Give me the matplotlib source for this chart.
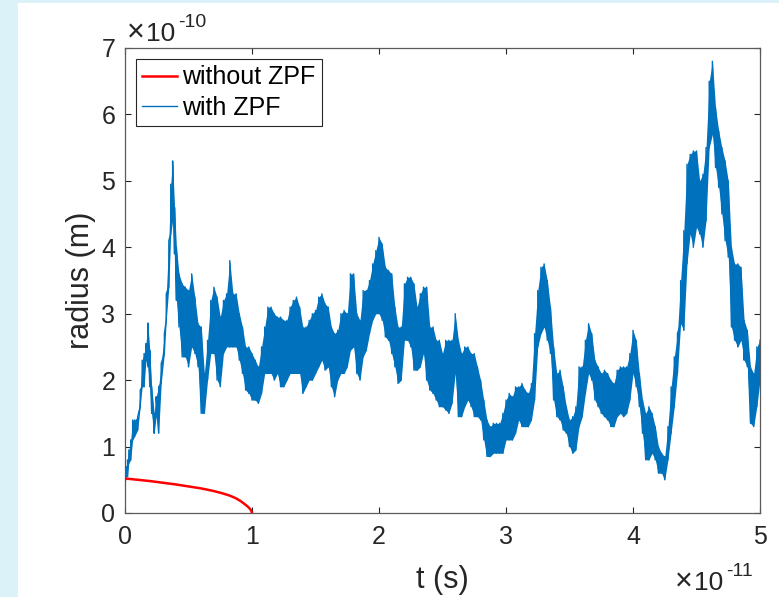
import matplotlib
matplotlib.use("Agg")
import matplotlib.pyplot as plt
import numpy as np

plt.rcParams['font.family'] = ['Liberation Sans', 'DejaVu Sans']

# ---- data (t in units of 1e-11 s, radius in units of 1e-10 m) ----
# "with ZPF": sample times and lower / upper edge of the noisy trace
t_zpf = [0.000, 0.010, 0.020, 0.030, 0.045, 0.060, 0.075, 0.100, 0.120, 0.135,
         0.150, 0.165, 0.180, 0.195, 0.210, 0.230, 0.245, 0.265, 0.285, 0.310,
         0.325, 0.345, 0.360, 0.375, 0.390, 0.405, 0.425,
         0.450, 0.475, 0.500, 0.525, 0.550, 0.575, 0.600, 0.625,
         0.650, 0.675, 0.700, 0.725, 0.750, 0.775, 0.800, 0.825,
         0.850, 0.875, 0.900, 0.925, 0.950, 0.975, 1.000, 1.025,
         1.050, 1.075, 1.100, 1.125, 1.150, 1.175, 1.200, 1.225,
         1.250, 1.275, 1.300, 1.325, 1.350, 1.375, 1.400, 1.425,
         1.450, 1.475, 1.500, 1.525, 1.550, 1.575, 1.600, 1.625,
         1.650, 1.675, 1.700, 1.725, 1.750, 1.775, 1.800, 1.825,
         1.850, 1.875, 1.900, 1.925, 1.950, 1.975, 2.000, 2.025,
         2.050, 2.075, 2.100, 2.125, 2.150, 2.175, 2.200, 2.225,
         2.250, 2.275, 2.300, 2.325, 2.350, 2.375, 2.400, 2.425,
         2.450, 2.475, 2.500, 2.525, 2.550, 2.575, 2.600, 2.625,
         2.650, 2.675, 2.700, 2.725, 2.750, 2.775, 2.800, 2.825,
         2.850, 2.875, 2.900, 2.925, 2.950, 2.975, 3.000, 3.025,
         3.050, 3.075, 3.100, 3.125, 3.150, 3.175, 3.200, 3.225,
         3.250, 3.275, 3.300, 3.325, 3.350, 3.375, 3.400, 3.425,
         3.450, 3.475, 3.500, 3.525, 3.550, 3.575, 3.600, 3.625,
         3.650, 3.675, 3.700, 3.725, 3.750, 3.775, 3.800, 3.825,
         3.850, 3.875, 3.900, 3.925, 3.950, 3.975, 4.000, 4.025,
         4.050, 4.075, 4.100, 4.125, 4.150, 4.175, 4.200, 4.225,
         4.250, 4.275, 4.300, 4.325, 4.350, 4.375, 4.400, 4.425,
         4.450, 4.475, 4.500, 4.525, 4.550, 4.575, 4.600, 4.625,
         4.650, 4.675, 4.700, 4.725, 4.750, 4.775, 4.800, 4.825,
         4.850, 4.875, 4.900, 4.925, 4.950, 4.975, 5.000]
r_zpf_low = [0.42, 0.55, 0.55, 0.75, 0.80, 1.10, 1.15, 1.25, 1.60, 1.90,
             1.90, 2.30, 2.20, 1.90, 1.50, 1.20, 1.45, 1.20, 1.95, 2.40,
             2.90, 3.40, 4.20, 4.40, 3.90, 3.20, 2.80,
             2.35, 2.35, 2.20, 2.50, 2.40, 2.20, 1.50, 1.50,
             2.00, 2.40, 2.40, 2.00, 1.90, 2.40, 2.50, 2.50,
             2.50, 2.50, 2.30, 2.10, 1.85, 1.80, 1.70, 1.70,
             1.65, 1.80, 2.10, 2.10, 2.10, 2.00, 2.10, 1.90,
             1.90, 2.00, 2.10, 2.10, 2.10, 2.10, 1.80, 1.90,
             2.00, 2.00, 2.10, 2.20, 2.30, 2.15, 2.20, 1.90,
             1.75, 2.00, 2.10, 2.10, 2.20, 2.45, 2.50, 2.10,
             2.00, 2.35, 2.45, 2.70, 2.90, 3.00, 3.00, 2.90,
             2.65, 2.60, 2.40, 2.20, 1.95, 2.00, 2.60, 2.60,
             2.50, 2.15, 2.15, 2.20, 2.40, 2.00, 1.85, 1.80,
             1.70, 1.60, 1.60, 1.55, 1.50, 1.65, 2.10, 1.45,
             1.45, 1.60, 1.70, 1.60, 1.45, 1.45, 1.40, 1.10,
             0.85, 0.85, 0.90, 0.90, 0.90, 0.90, 1.10, 1.10,
             1.10, 1.20, 1.40, 1.30, 1.30, 1.30, 1.40, 1.70,
             2.50, 2.70, 2.80, 2.60, 2.40, 1.70, 1.45, 1.40,
             1.25, 1.20, 1.00, 0.90, 0.95, 1.30, 1.45, 1.80,
             2.10, 2.00, 1.70, 1.60, 1.50, 1.45, 1.40, 1.30,
             1.30, 1.45, 1.50, 1.45, 1.50, 1.70, 2.10, 1.90,
             1.60, 1.20, 0.80, 0.80, 0.90, 0.80, 0.60, 0.60,
             0.50, 0.80, 1.20, 1.60, 2.10, 2.85, 2.75, 3.75,
             4.20, 4.00, 4.30, 4.20, 4.00, 4.40, 5.50, 5.70,
             5.20, 4.90, 4.50, 4.10, 3.85, 2.80, 2.60, 2.50,
             2.60, 2.30, 2.20, 1.35, 1.30, 1.60, 2.00]
r_zpf_high = [0.52, 0.70, 0.80, 0.95, 1.10, 1.40, 1.40, 1.45, 1.85, 2.30,
              2.40, 2.55, 2.86, 2.45, 1.90, 1.50, 1.75, 1.90, 2.25, 2.70,
              3.30, 4.10, 4.95, 5.30, 4.60, 4.00, 3.60,
              3.45, 3.40, 3.35, 3.60, 3.25, 2.85, 2.80, 2.10,
              2.60, 3.20, 3.40, 3.25, 2.95, 3.20, 3.30, 3.80,
              3.30, 3.30, 3.00, 2.80, 2.50, 2.50, 2.40, 2.30,
              2.20, 2.50, 2.80, 3.10, 3.10, 3.00, 2.95, 2.95,
              2.90, 2.90, 3.10, 3.20, 3.25, 3.10, 2.80, 2.80,
              2.90, 3.00, 3.05, 3.25, 3.30, 3.15, 3.10, 2.80,
              2.70, 2.75, 3.00, 3.05, 3.00, 3.60, 3.60, 3.00,
              2.90, 3.35, 3.35, 3.50, 3.75, 3.95, 4.15, 4.05,
              3.70, 3.65, 3.60, 3.10, 2.80, 2.80, 3.45, 3.55,
              3.55, 3.45, 3.10, 3.30, 3.40, 3.40, 2.80, 2.80,
              2.60, 2.60, 2.40, 2.60, 2.60, 2.60, 3.00, 2.60,
              2.40, 2.50, 2.50, 2.40, 2.40, 2.20, 2.00, 1.70,
              1.40, 1.30, 1.35, 1.35, 1.35, 1.50, 1.70, 1.80,
              1.75, 1.90, 1.90, 1.95, 1.85, 1.80, 1.95, 2.70,
              3.35, 3.70, 3.75, 3.50, 3.10, 2.50, 2.10, 2.15,
              1.90, 1.60, 1.40, 1.45, 1.60, 2.20, 2.20, 2.60,
              2.85, 2.70, 2.30, 2.20, 2.10, 2.15, 2.10, 2.00,
              1.95, 2.15, 2.20, 2.20, 2.20, 2.40, 2.75, 2.60,
              2.10, 1.70, 1.50, 1.60, 1.50, 1.30, 1.00, 0.90,
              0.85, 1.30, 1.90, 2.35, 2.70, 3.50, 4.25, 5.25,
              5.40, 5.45, 5.45, 5.00, 5.10, 5.50, 6.50, 6.80,
              6.10, 5.75, 5.50, 5.30, 5.00, 4.00, 3.75, 3.75,
              3.70, 2.90, 2.75, 2.20, 2.10, 2.50, 2.60]

# "without ZPF": classical radiative collapse
t_classic = [0.0, 0.1, 0.2, 0.3, 0.4, 0.5, 0.6, 0.7, 0.76, 0.82, 0.87, 0.91,
             0.945, 0.97, 0.985, 0.995, 1.0]
r_classic = [0.52, 0.50, 0.48, 0.455, 0.43, 0.40, 0.37, 0.33, 0.30, 0.265,
             0.225, 0.18, 0.13, 0.09, 0.06, 0.03, 0.0]

x_ticks = [0, 1, 2, 3, 4, 5]
y_ticks = [0, 1, 2, 3, 4, 5, 6, 7]

W, H = 779, 597
fig = plt.figure(figsize=(W / 100, H / 100), dpi=100)
fig.patch.set_facecolor('#dcf2f9')
# white slide panel (behind the axes)
panel = plt.Rectangle((18 / W, 0), 1 - 18 / W, 1 - 3 / H,
                      transform=fig.transFigure, facecolor='white',
                      edgecolor='none', zorder=-10)
fig.patches.append(panel)

ax = fig.add_axes([125 / W, (H - 513) / H, 635 / W, 465 / H])
ax.set_zorder(1)
ax.set_facecolor('white')

blue = '#0072BD'
t_arr = np.array(t_zpf)
lo = np.array(r_zpf_low)
hi = np.array(r_zpf_high)
ax.fill_between(t_arr, lo, hi, color=blue, linewidth=0, zorder=2)
tz = np.repeat(t_arr, 2)
rz = np.column_stack([lo, hi]).ravel()
ax.plot(tz, rz, color=blue, lw=1.0, zorder=3, label='with ZPF')
ax.plot(t_classic, r_classic, color='#FF0000', lw=1.8, zorder=4,
        label='without ZPF')

ax.set_xlim(0, 5)
ax.set_ylim(0, 7)
ax.set_xticks(x_ticks)
ax.set_yticks(y_ticks)
ax.set_xticklabels([str(v) for v in x_ticks])
ax.set_yticklabels([str(v) for v in y_ticks])
ax.tick_params(direction='in', length=4.5, width=0.8, colors='#262626',
               labelsize=18, top=True, right=True)
ax.tick_params(axis='x', pad=9)
ax.tick_params(axis='y', pad=7)
for s in ax.spines.values():
    s.set_color('#5a5a5a')
    s.set_linewidth(0.9)

ax.set_xlabel('t (s)', fontsize=22, color='#262626', labelpad=11)
ax.set_ylabel('radius (m)', fontsize=22, color='#262626', labelpad=4)

handles, labels = ax.get_legend_handles_labels()
leg = ax.legend(handles[::-1], labels[::-1], loc='upper left',
                bbox_to_anchor=(0.0173, 0.976), borderaxespad=0,
                fontsize=18, handlelength=1.4, handletextpad=0.2,
                labelspacing=0.25, borderpad=0.25, fancybox=False,
                framealpha=1, edgecolor='#262626')
leg.get_frame().set_linewidth(0.8)

# exponent labels (MATLAB style)
def exponent(x_times, x_ten, x_exp, y_base, y_sup, exp_text):
    fig.text(x_times / W, 1 - y_base / H, '\u00d7', fontsize=22,
             color='#262626', ha='left', va='baseline')
    fig.text(x_ten / W, 1 - y_base / H, '10', fontsize=19,
             color='#262626', ha='left', va='baseline')
    fig.text(x_exp / W, 1 - y_sup / H, exp_text, fontsize=14,
             color='#262626', ha='left', va='baseline')

exponent(127, 146, 178, 41, 27, '-10')
exponent(675, 694, 726, 590, 576, '-11')

fig.savefig('out.png', dpi=100, facecolor=fig.get_facecolor())
